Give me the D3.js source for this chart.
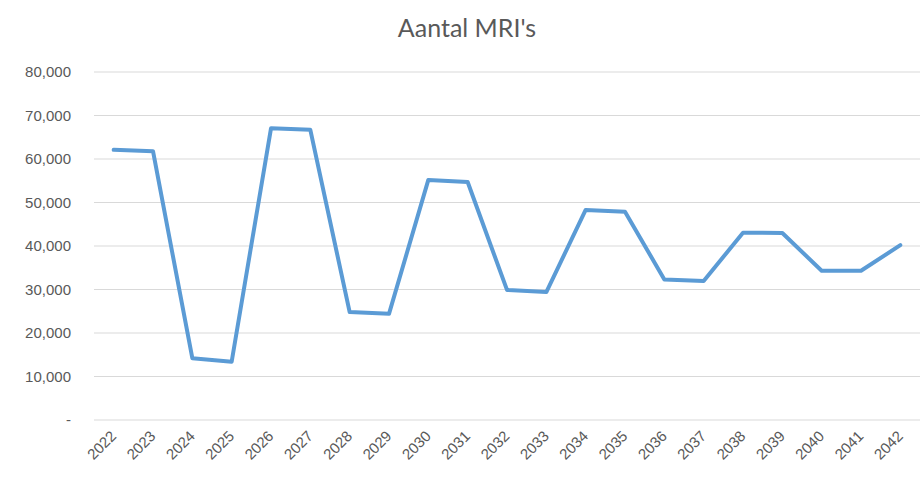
<!DOCTYPE html>
<html>
<head>
<meta charset="utf-8">
<script src="https://cdn.jsdelivr.net/npm/d3@7"></script>
<style>
  body { margin: 0; background: #fff; }
  svg { font-family: Lato, "Open Sans", sans-serif; }
</style>
</head>
<body>
<svg width="920" height="480"></svg>
<script>
var years = ["2022","2023","2024","2025","2026","2027","2028","2029","2030","2031","2032",
             "2033","2034","2035","2036","2037","2038","2039","2040","2041","2042"];
var mris = [62100, 61800, 14200, 13400, 67050, 66700, 24800, 24400, 55200, 54700, 29900,
            29400, 48300, 47900, 32300, 31950, 43050, 43000, 34300, 34300, 40200];
var yTicks = [0, 10000, 20000, 30000, 40000, 50000, 60000, 70000, 80000];

var svg = d3.select("svg"),
    margin = {top: 72, right: 0, bottom: 60, left: 94},
    width = 920 - margin.left - margin.right,
    height = 480 - margin.top - margin.bottom;

var x = d3.scalePoint().domain(years).range([0, width]).padding(0.5);
var y = d3.scaleLinear().domain([0, 80000]).range([height, 0]);

var g = svg.append("g").attr("transform", "translate(" + margin.left + "," + margin.top + ")");

// gridlines
g.append("g")
    .selectAll("line")
    .data(yTicks)
    .enter()
    .append("line")
    .attr("x1", 0)
    .attr("x2", width)
    .attr("y1", function (d) { return y(d); })
    .attr("y2", function (d) { return y(d); })
    .attr("stroke", "#d9d9d9")
    .attr("stroke-width", 1);

var fmt = d3.format(",");
var yAxis = g.append("g")
    .call(d3.axisLeft(y).tickValues(yTicks).tickSize(0).tickPadding(23)
      .tickFormat(function (d) { return d === 0 ? "-" : fmt(d); }));
yAxis.select(".domain").remove();
yAxis.selectAll("text").style("font-size", "15px").attr("fill", "#595959");

var xAxis = g.append("g")
    .attr("transform", "translate(0," + height + ")")
    .call(d3.axisBottom(x).tickSize(0));
xAxis.select(".domain").remove();
xAxis.selectAll("text")
    .style("font-size", "15px")
    .attr("fill", "#595959")
    .attr("text-anchor", "end")
    .attr("dy", null)
    .attr("y", 0)
    .attr("transform", "translate(3,17) rotate(-45)");

var line = d3.line()
    .x(function (d, i) { return x(years[i]); })
    .y(function (d) { return y(d); });

g.append("path")
    .datum(mris)
    .attr("fill", "none")
    .attr("stroke", "#5b9bd5")
    .attr("stroke-width", 4)
    .attr("stroke-linejoin", "round")
    .attr("stroke-linecap", "round")
    .attr("d", line);

svg.append("text")
    .attr("x", 467)
    .attr("y", 37)
    .attr("text-anchor", "middle")
    .attr("fill", "#595959")
    .style("font-size", "25px")
    .text("Aantal MRI's");
</script>
</body>
</html>
